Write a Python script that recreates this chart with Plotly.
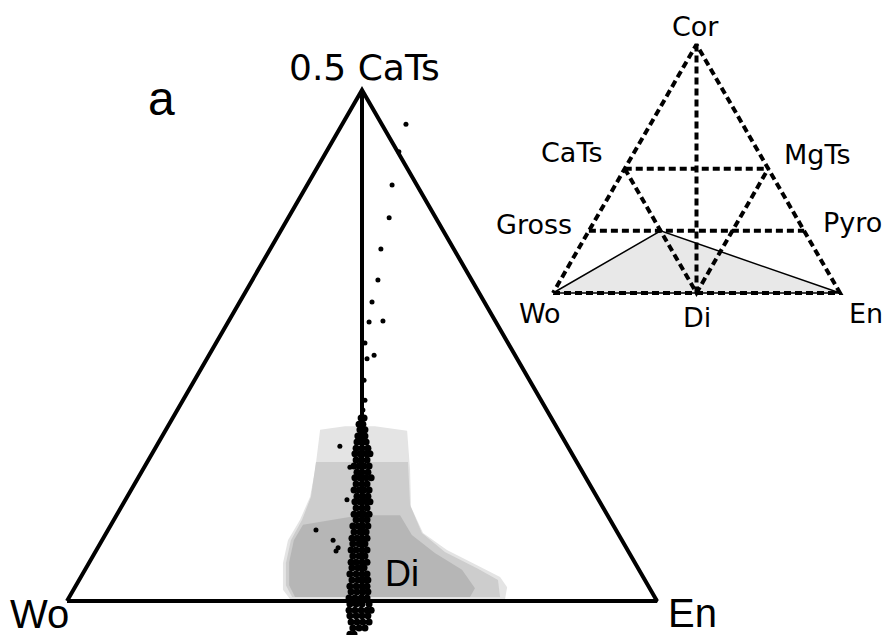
import numpy as np
import plotly.graph_objects as go

H = np.sqrt(3) / 2
FONT = "Liberation Sans, Arial, Helvetica, sans-serif"
WIDE = "DejaVu Sans, Liberation Sans, sans-serif"

# ---- main diagram: Wo - En - 0.5 CaTs (mol %) ----
# every point is given as CaTs % and (En - Wo) %
upper_cats = [93.3, 87.9, 81.4, 75.0, 68.9, 62.8, 58.5, 54.6, 54.8, 50.5,
              47.4, 48.1, 43.2, 39.3, 37.4]
upper_en_wo = [14.9, 12.5, 10.2, 9.2, 6.4, 5.4, 3.4, 2.4, 7.1, 1.0,
               1.7, 4.1, 0.7, 1.0, 0.3]

outlier_cats = [30.3, 26.2, 19.8, 13.9, 11.9, 9.8, 10.4]
outlier_en_wo = [-7.5, -4.1, -5.1, -15.6, -9.8, -8.8, -8.1]

# dense cluster on the Wo = En join, one CaTs level per row
core_cats = [35.8, 34.6, 33.5, 32.3, 31.1, 29.9, 28.8, 27.6, 26.4, 25.2,
             24.1, 22.9, 21.7, 20.5, 19.4, 18.2, 17.0, 15.9, 14.7, 13.5,
             12.3, 11.2, 10.0, 8.8, 7.6, 6.5, 5.3, 4.1, 2.9, 1.8,
             0.6, -0.6, -1.8, -2.9, -4.1, -5.3, -6.5]
core_en_wo = [
    [-0.3, 0.7], [-1.0, 0.3], [-0.7, 1.0], [-1.4, 0.0, 1.0], [-1.7, -0.3, 1.4],
    [-2.0, 0.0, 2.0], [-2.4, -0.7, 1.4, 2.7], [-2.0, -0.3, 1.7], [-2.7, -1.0, 0.7, 2.4],
    [-1.7, 0.0, 2.0], [-2.4, -0.7, 1.4, 3.1], [-2.0, 0.0, 1.7], [-2.7, -1.0, 0.7, 2.4],
    [-1.7, 0.3, 2.0], [-2.4, -0.7, 1.4, 2.7], [-2.0, 0.0, 1.7], [-2.7, -1.0, 0.7, 2.4],
    [-2.0, 0.0, 1.7], [-3.1, -1.4, 0.3, 2.0], [-2.7, -0.7, 1.4], [-3.4, -1.7, 0.0, 1.7],
    [-3.1, -1.0, 1.0], [-3.7, -2.0, 0.0, 1.7], [-3.1, -1.0, 1.0], [-3.7, -2.0, 0.0, 1.7],
    [-3.4, -1.4, 0.7], [-4.1, -2.0, 0.0, 1.7], [-3.4, -1.4, 0.7, 2.0], [-4.1, -2.0, 0.0, 1.7],
    [-3.7, -1.7, 0.3, 2.0], [-4.4, -2.4, -0.3, 1.7], [-4.1, -2.0, 0.0, 2.4],
    [-4.4, -2.4, -0.3, 1.7, 3.1], [-4.1, -2.0, 0.0, 2.0], [-3.7, -1.7, 0.3, 2.4],
    [-3.1, -1.0, 1.0], [-4.1, -2.7],
]

# shaded field of Di compositions (outer, middle, inner shades)
field_outer_cats = [33.5, 34.2, 34.2, 33.3, 25.6, 18.4, 13.3, 10.0, 6.7, 4.7,
                    2.7, 0.4, 0.4, 2.2, 7.4, 11.9, 15.9, 20.4, 25.6]
field_outer_en_wo = [-14.2, -5.8, 4.4, 15.3, 16.3, 16.6, 20.7, 28.8, 40.0, 46.8,
                     49.2, 48.5, -24.4, -26.8, -26.8, -25.1, -21.0, -17.6, -15.9]
field_mid_cats = [27.2, 27.2, 18.8, 13.3, 9.6, 6.3, 4.1, 0.8, 0.8, 3.1,
                  7.4, 11.9, 15.9, 20.4]
field_mid_en_wo = [-15.6, 15.6, 16.3, 20.3, 28.1, 39.3, 46.1, 46.8, -23.7, -25.8,
                   -25.8, -24.1, -20.3, -17.3]
field_inner_cats = [14.9, 16.8, 16.8, 12.9, 9.4, 6.1, 2.5, 0.8, 0.8, 3.1, 7.6, 11.9]
field_inner_en_wo = [-20.0, -0.7, 12.9, 16.9, 24.7, 33.9, 38.3, 36.6, -22.7, -24.7,
                     -24.7, -23.1]

# ---- inset: Wo - En - Cor, compositions as (Wo, En, Cor) fractions ----
inset_pts = {
    "Wo": (1.0, 0.0, 0.0), "En": (0.0, 1.0, 0.0), "Cor": (0.0, 0.0, 1.0),
    "Di": (0.5, 0.5, 0.0), "CaTs": (0.5, 0.0, 0.5), "MgTs": (0.0, 0.5, 0.5),
    "Gross": (0.75, 0.0, 0.25), "Pyro": (0.0, 0.75, 0.25),
    "half": (0.5, 0.25, 0.25),
}
inset_dashed = [["Wo", "En", "Cor", "Wo"], ["Cor", "Di"], ["CaTs", "MgTs"],
                ["Gross", "Pyro"], ["CaTs", "Di", "MgTs"]]
inset_shaded = ["Wo", "half", "En", "Wo"]


def main_xy(cats, en_wo):
    c = np.asarray(cats, dtype=float) / 100
    d = np.asarray(en_wo, dtype=float) / 100
    return (1 + d) / 2, c * H


def inset_xy(names):
    comp = np.array([inset_pts[n] for n in names])
    return comp[:, 1] + comp[:, 2] / 2, comp[:, 2] * H


fig = go.Figure()

# Di field
for cats, ew, col in [(field_outer_cats, field_outer_en_wo, "#e4e4e4"),
                      (field_mid_cats, field_mid_en_wo, "#cdcdcd"),
                      (field_inner_cats, field_inner_en_wo, "#b6b6b6")]:
    x, y = main_xy(cats + cats[:1], ew + ew[:1])
    fig.add_trace(go.Scatter(x=x, y=y, mode="lines", fill="toself", fillcolor=col,
                             line=dict(width=0), hoverinfo="skip"))

# triangle and Wo=En join
x, y = main_xy([0, 0, 100, 0], [-100, 100, 0, -100])
fig.add_trace(go.Scatter(x=x, y=y, mode="lines", line=dict(color="black", width=4)))
x, y = main_xy([100, 0], [0, 0])
fig.add_trace(go.Scatter(x=x, y=y, mode="lines", line=dict(color="black", width=4)))

# analyses
core_c = [c for c, row in zip(core_cats, core_en_wo) for _ in row]
core_d = [d for row in core_en_wo for d in row]
x, y = main_xy(core_c, core_d)
fig.add_trace(go.Scatter(x=x, y=y, mode="markers", marker=dict(color="black", size=7)))
x, y = main_xy(outlier_cats, outlier_en_wo)
fig.add_trace(go.Scatter(x=x, y=y, mode="markers", marker=dict(color="black", size=5)))
x, y = main_xy(upper_cats, upper_en_wo)
fig.add_trace(go.Scatter(x=x, y=y, mode="markers", marker=dict(color="black", size=5)))

# inset
x, y = inset_xy(inset_shaded)
fig.add_trace(go.Scatter(x=x, y=y, xaxis="x2", yaxis="y2", mode="lines", fill="toself",
                         fillcolor="#e8e8e8", line=dict(color="black", width=1.5)))
for seg in inset_dashed:
    x, y = inset_xy(seg)
    fig.add_trace(go.Scatter(x=x, y=y, xaxis="x2", yaxis="y2", mode="lines",
                             line=dict(color="black", width=4, dash="7px,4px")))

# labels
main_labels = [("0.5 CaTs", 0.505, 0.905, 36, WIDE), ("a", 0.161, 0.851, 48, FONT),
               ("Wo", -0.047, -0.022, 40, FONT), ("En", 1.061, -0.020, 40, FONT),
               ("Di", 0.568, 0.046, 36, FONT)]
for txt, lx, ly, fs, fam in main_labels:
    fig.add_annotation(x=lx, y=ly, xref="x", yref="y", text=txt, showarrow=False,
                       font=dict(size=fs, color="black", family=fam))
inset_labels = [("Cor", 0.498, 0.930), ("CaTs", 0.066, 0.488), ("MgTs", 0.923, 0.481),
                ("Gross", -0.066, 0.240), ("Pyro", 1.045, 0.247), ("Wo", -0.045, -0.070),
                ("Di", 0.502, -0.084), ("En", 1.091, -0.070)]
for txt, lx, ly in inset_labels:
    fig.add_annotation(x=lx, y=ly, xref="x2", yref="y2", text=txt, showarrow=False,
                       font=dict(size=27, color="black", family=WIDE))

# page body adds an 8px margin, so the figure is 8px short of the window
hidden = dict(visible=False, showgrid=False, zeroline=False, fixedrange=True)
fig.update_layout(
    width=882, height=627,
    margin=dict(l=0, r=0, t=0, b=0),
    paper_bgcolor="white", plot_bgcolor="white",
    showlegend=False,
    xaxis=dict(range=[-59 / 590, 823 / 590], **hidden),
    yaxis=dict(range=[-34 / 590, 593 / 590], **hidden),
    xaxis2=dict(range=[-545 / 287, 337 / 287], overlaying="x", **hidden),
    yaxis2=dict(range=[-342 / 287, 285 / 287], overlaying="y", **hidden),
)

fig.write_html("out.html")
